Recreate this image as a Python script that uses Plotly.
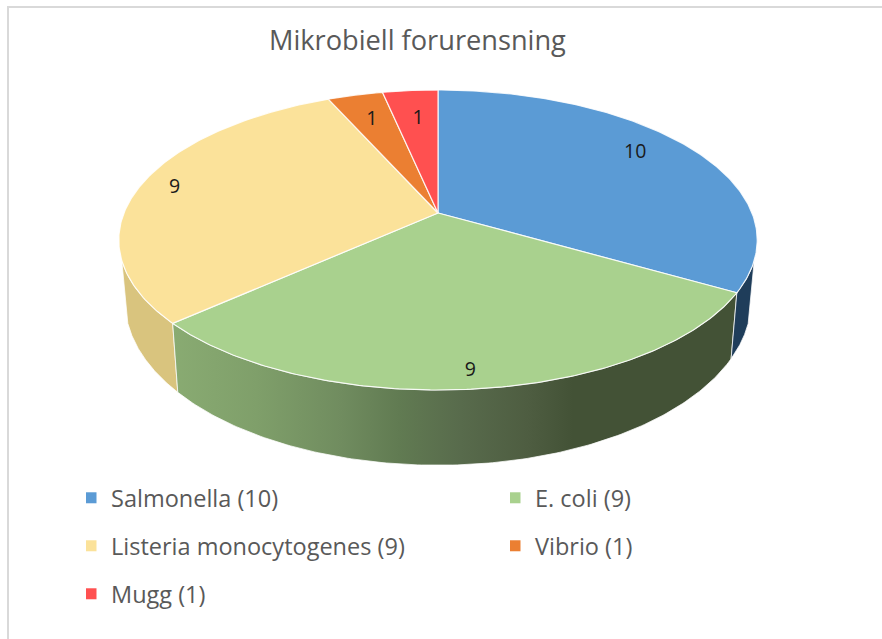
import numpy as np
import plotly.graph_objects as go

title = "Mikrobiell forurensning"
categories = ["Salmonella", "E. coli", "Listeria monocytogenes", "Vibrio", "Mugg"]
values = [10, 9, 9, 1, 1]
top_colors = ["#5B9BD5", "#A9D18E", "#FBE29A", "#EB7F32", "#FF5050"]
legend_ids = ["legend", "legend2", "legend3", "legend4", "legend5"]
legend_x = [86, 510, 86, 510, 86]
legend_y = [498, 498, 546, 546, 594]
label_radius = [0.78, 0.9, 0.9, 0.8, 0.8]
label_shift_x = [-1, -3, 4, 2, 3]
label_shift_y = [-7, 3, 1, 4, 7]

# Projection of the tilted disc onto page pixels
CX, TILT = 438, 0.18
TOP = dict(k=314, a=213, p=-106.8)
BOTTOM = dict(k=308, a=271.5, p=-110)


def project(xu, yu, d):
    w = 1 + TILT * yu
    return CX + d["k"] * xu / w, (d["a"] + d["p"] * yu) / w


def arc(a0, a1, d):
    t = np.radians(np.linspace(a0, a1, 160))
    return project(np.sin(t), np.cos(t), d)


fractions = np.cumsum([0] + values) / sum(values) * 360
fig = go.Figure()

# Sides (only what faces the viewer)
green_scale = [[0, "#89AB72"], [0.15, "#7F9F6A"], [0.30, "#708C5F"], [0.40, "#617B52"],
               [0.51, "#586B4C"], [0.63, "#4E5D41"], [0.71, "#435236"], [1, "#435236"]]
sides = [
    (fractions[2], 252, "#D9C47E", None),
    (fractions[1], fractions[2], None, green_scale),
    (108, fractions[1], "#1F3D5A", None),
]
for a0, a1, solid, scale in sides:
    xt, yt = arc(a0, a1, TOP)
    xb, yb = arc(a0, a1, BOTTOM)
    kw = dict(fillcolor=solid) if solid else dict(
        fillgradient=dict(type="horizontal", colorscale=scale))
    fig.add_trace(go.Scatter(
        x=np.r_[xt, xb[::-1], xt[0]], y=np.r_[yt, yb[::-1], yt[0]],
        mode="lines", fill="toself", line=dict(color="rgba(255,255,255,0.75)", width=1),
        hoverinfo="skip", showlegend=False, **kw))

# Top face
for i, name in enumerate(categories):
    xa, ya = arc(fractions[i], fractions[i + 1], TOP)
    cx, cy = project(0, 0, TOP)
    fig.add_trace(go.Scatter(
        x=np.r_[cx, xa, cx], y=np.r_[cy, ya, cy], mode="lines", fill="toself",
        fillcolor=top_colors[i], line=dict(color="rgba(255,255,255,0.85)", width=1.2),
        name=name, hoverinfo="name", showlegend=False))

# Data labels
mids = np.radians((fractions[:-1] + fractions[1:]) / 2)
lx, ly = project(np.sin(mids) * label_radius, np.cos(mids) * label_radius, TOP)
fig.add_trace(go.Scatter(
    x=lx + np.array(label_shift_x), y=ly + np.array(label_shift_y),
    mode="text", text=[str(v) for v in values],
    textfont=dict(family="Open Sans", size=19.5, color="#1A1A1A"),
    hoverinfo="skip", showlegend=False))

# Legend entries: one positioned legend per entry, to keep the two-column grid
for i, legend_name in enumerate(legend_ids):
    fig.add_trace(go.Scatter(
        x=[None], y=[None], mode="markers", legend=legend_name,
        marker=dict(symbol="square", size=11, color=top_colors[i]),
        name=f"{categories[i]} ({values[i]})"))

layout_legends = {
    name: dict(
        xanchor="left", yanchor="middle", x=legend_x[i] / 882, y=1 - legend_y[i] / 639,
        font=dict(family="Open Sans", size=23.5, color="#595959"),
        bgcolor="rgba(0,0,0,0)", indentation=-15,
    )
    for i, name in enumerate(legend_ids)
}

fig.update_layout(
    width=882, height=639, margin=dict(l=0, r=0, t=0, b=0),
    paper_bgcolor="white", plot_bgcolor="white",
    xaxis=dict(range=[0, 882], visible=False, fixedrange=True),
    yaxis=dict(range=[639, 0], visible=False, fixedrange=True),
    annotations=[dict(text=title, x=417, y=39, xref="x", yref="y", showarrow=False,
                      font=dict(family="Open Sans", size=27.2, color="#595959"))],
    shapes=[
        dict(type="line", xref="x", yref="y", x0=8, x1=8, y0=6, y1=639, line=dict(color="#D9D9D9", width=2)),
        dict(type="line", xref="x", yref="y", x0=7, x1=882, y0=7, y1=7, line=dict(color="#D9D9D9", width=2)),
    ],
    **layout_legends,
)

fig.write_html("out.html", config={"displayModeBar": False},
               post_script="document.body.style.margin='0';document.body.style.overflow='hidden';")
